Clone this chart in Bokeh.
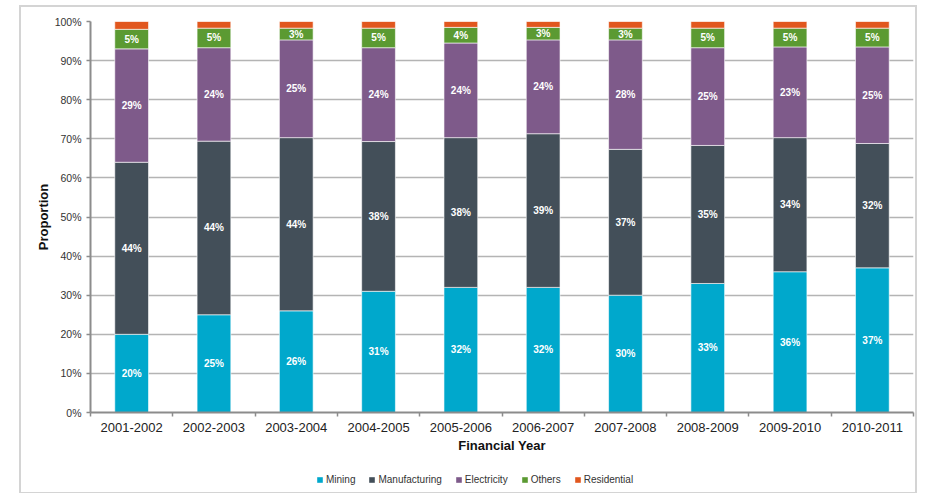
from bokeh.plotting import figure
from bokeh.models import ColumnDataSource, FixedTicker, Legend, LegendItem, Range1d
from bokeh.layouts import column
from bokeh.embed import file_html
from bokeh.resources import INLINE
from bokeh.core.properties import value

years = ["2001-2002", "2002-2003", "2003-2004", "2004-2005", "2005-2006",
         "2006-2007", "2007-2008", "2008-2009", "2009-2010", "2010-2011"]
mining        = [20.0, 25.0, 26.0, 31.0, 32.0, 32.0, 30.0, 33.0, 36.0, 37.0]
manufacturing = [44.0, 44.4, 44.3, 38.3, 38.3, 39.3, 37.3, 35.3, 34.3, 31.8]
electricity   = [29.0, 23.9, 25.0, 24.0, 24.2, 24.0, 28.0, 25.0, 23.2, 24.7]
others        = [5.0, 5.0, 3.0, 5.0, 4.0, 3.2, 3.0, 5.0, 4.8, 4.8]
residential   = [2.0, 1.7, 1.7, 1.7, 1.5, 1.5, 1.7, 1.7, 1.7, 1.7]

series_names = ["Mining", "Manufacturing", "Electricity", "Others", "Residential"]
series_vals = [mining, manufacturing, electricity, others, residential]
colors = ["#00A8CC", "#434F59", "#7E5A8A", "#5B9A32", "#E1571E"]
labelled = [True, True, True, True, False]
y_ticks = [0, 10, 20, 30, 40, 50, 60, 70, 80, 90, 100]

FONT = "Liberation Sans"

xs = [i + 0.5 for i in range(len(years))]
data = {"x": xs}
for name, vals in zip(series_names, series_vals):
    data[name] = vals
source = ColumnDataSource(data)

p = figure(width=894, height=453, output_backend="svg", toolbar_location=None,
           x_range=Range1d(0, len(years)), y_range=Range1d(0, 100),
           min_border_left=69, min_border_right=2, min_border_top=14,
           min_border_bottom=48)
p.outline_line_color = None

renderers = p.vbar_stack(series_names, x="x", width=0.41, color=colors,
                         line_color="white", line_width=0.6, source=source)

# segment labels
lx, ly, lt = [], [], []
for i in range(len(years)):
    base = 0.0
    for vals, lab in zip(series_vals, labelled):
        v = vals[i]
        if lab:
            lx.append(xs[i])
            ly.append(base + v / 2.0)
            lt.append(f"{round(v)}%")
        base += v
p.text(x=lx, y=ly, text=lt, text_color="white", text_font=value(FONT),
       text_font_size="10px", text_font_style="bold", text_align="center",
       text_baseline="middle")

# axes
p.xgrid.grid_line_color = None
p.ygrid.grid_line_color = "#b4b4b4"
p.ygrid.grid_line_width = 1.3
p.ygrid.ticker = FixedTicker(ticks=y_ticks)

p.yaxis.ticker = FixedTicker(ticks=y_ticks)
p.yaxis.major_label_overrides = {t: f"{t}%" for t in y_ticks}
p.yaxis.axis_label = "Proportion"
p.yaxis.axis_label_text_font = FONT
p.yaxis.axis_label_text_font_style = "bold"
p.yaxis.axis_label_text_font_size = "13px"
p.yaxis.axis_label_text_color = "#111111"
p.yaxis.axis_label_standoff = 1
p.yaxis.major_label_text_font = FONT
p.yaxis.major_label_text_font_size = "10.5px"
p.yaxis.major_label_text_color = "#333333"
p.yaxis.major_label_standoff = 5
p.yaxis.major_tick_out = 4
p.yaxis.major_tick_in = 0
p.yaxis.minor_tick_line_color = None
p.yaxis.axis_line_color = "#8c8c8c"
p.yaxis.axis_line_width = 2
p.yaxis.major_tick_line_color = "#8c8c8c"
p.yaxis.major_tick_line_width = 1.5

p.xaxis.ticker = FixedTicker(ticks=xs, minor_ticks=list(range(len(years) + 1)))
p.xaxis.major_label_overrides = {x: y for x, y in zip(xs, years)}
p.xaxis.major_tick_line_color = None
p.xaxis.minor_tick_out = 4
p.xaxis.minor_tick_in = 0
p.xaxis.minor_tick_line_color = "#8c8c8c"
p.xaxis.minor_tick_line_width = 1.5
p.xaxis.axis_line_color = "#8c8c8c"
p.xaxis.axis_line_width = 2
p.xaxis.major_label_text_font = FONT
p.xaxis.major_label_text_font_size = "13px"
p.xaxis.major_label_text_color = "#222222"
p.xaxis.major_label_standoff = 4
p.xaxis.axis_label = "Financial Year"
p.xaxis.axis_label_text_font = FONT
p.xaxis.axis_label_text_font_style = "bold"
p.xaxis.axis_label_text_font_size = "13px"
p.xaxis.axis_label_text_color = "#111111"
p.xaxis.axis_label_standoff = 3

# legend strip below the chart (its bars lie outside its visible ranges)
lg = figure(width=894, height=32, output_backend="svg", toolbar_location=None,
            x_axis_location=None, y_axis_location=None,
            min_border_left=0, min_border_right=0, min_border_top=0,
            min_border_bottom=0, x_range=Range1d(100, 101),
            y_range=Range1d(200, 201))
lg.outline_line_color = None
lg.xgrid.grid_line_color = None
lg.ygrid.grid_line_color = None
items = []
for n, c in zip(series_names, colors):
    r = lg.vbar(x="x", top=n, width=0.41, fill_color=c, line_color=None,
                source=source)
    items.append(LegendItem(label=n, renderers=[r]))
legend = Legend(items=items, orientation="horizontal", location=(226, 7),
                label_text_font=FONT, label_text_font_size="10px",
                label_text_color="#333333", glyph_width=7, glyph_height=7,
                label_standoff=3, spacing=13, padding=0, margin=0,
                border_line_color=None, background_fill_alpha=0,
                label_height=10)
lg.add_layout(legend, "center")

layout = column(p, lg, spacing=0)
layout.margin = (5, 0, 0, 19)
layout.styles = {"border": "2px solid #d4d4d4"}
open("out.html", "w").write(file_html(layout, INLINE))
